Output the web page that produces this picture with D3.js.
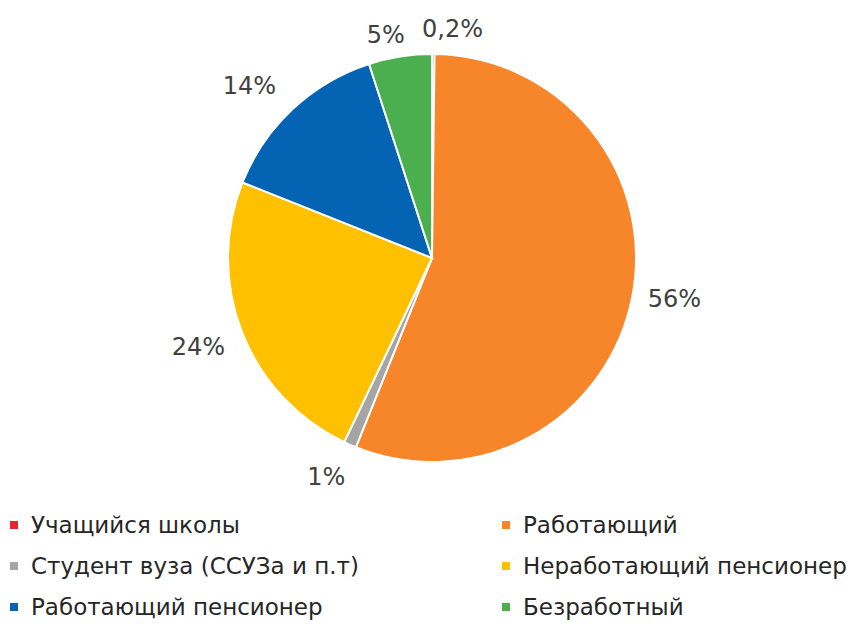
<!DOCTYPE html>
<html>
<head>
<meta charset="utf-8">
<script src="https://cdn.jsdelivr.net/npm/d3@7"></script>
<style>
  body { margin: 0; background: #fff; }
  text { font-family: "DejaVu Sans", Verdana, sans-serif; }
</style>
</head>
<body>
<div id="chart"></div>
<script>
// categories and shares (percent), starting at 12 o'clock, clockwise
var categories = ["Учащийся школы", "Работающий", "Студент вуза (ССУЗа и п.т)",
                  "Неработающий пенсионер", "Работающий пенсионер", "Безработный"]
var values = [0.2, 56, 1, 24, 14, 5]
var labels = ["0,2%", "56%", "1%", "24%", "14%", "5%"]
var colors = ["#E5262B", "#F7862A", "#A5A5A5", "#FFC000", "#0563B4", "#4BAE4F"]

var width = 860,
    height = 628

var svg = d3.select("#chart")
  .append("svg")
  .attr("width", width)
  .attr("height", height)

var cx = 432, cy = 258, radius = 204

var pie = d3.pie()
  .sort(null)
  .value(function(d) { return d.value })

var data = categories.map(function(c, i) {
  return { name: c, value: values[i], label: labels[i], color: colors[i] }
})
var arcs = pie(data)

var arc = d3.arc().innerRadius(0).outerRadius(radius)
var labelArc = d3.arc().innerRadius(238).outerRadius(238)

var g = svg.append("g")
  .attr("transform", "translate(" + cx + "," + cy + ")")

g.selectAll("path.slice")
  .data(arcs)
  .enter()
  .append("path")
  .attr("class", "slice")
  .attr("d", arc)
  .attr("fill", function(d) { return d.data.color })
  .attr("stroke", "#fff")
  .attr("stroke-width", 2)

// small nudges like Excel's best-fit label placement
var nudge = [[19, 9], [9, -6], [-10, 1], [-12, 2], [-20, 2], [-9, 12]]

g.selectAll("text.lbl")
  .data(arcs)
  .enter()
  .append("text")
  .attr("class", "lbl")
  .attr("text-anchor", "middle")
  .attr("dominant-baseline", "central")
  .attr("font-size", 24)
  .style("fill", "#404040")
  .attr("transform", function(d, i) {
    var p = labelArc.centroid(d)
    return "translate(" + (p[0] + nudge[i][0]) + "," + (p[1] + nudge[i][1]) + ")"
  })
  .text(function(d) { return d.data.label })

// legend: two columns, row-wise
var legend = svg.append("g")
var colX = [10, 502], rowY = 525, rowStep = 41

var items = legend.selectAll("g.item")
  .data(data)
  .enter()
  .append("g")
  .attr("class", "item")
  .attr("transform", function(d, i) {
    return "translate(" + colX[i % 2] + "," + (rowY + Math.floor(i / 2) * rowStep) + ")"
  })

items.append("rect")
  .attr("x", 0).attr("y", -4)
  .attr("width", 8).attr("height", 8)
  .attr("fill", function(d) { return d.color })

items.append("text")
  .attr("x", 21)
  .attr("y", 0)
  .attr("dominant-baseline", "central")
  .attr("font-size", 23)
  .style("fill", "#262626")
  .text(function(d) { return d.name })
</script>
</body>
</html>
